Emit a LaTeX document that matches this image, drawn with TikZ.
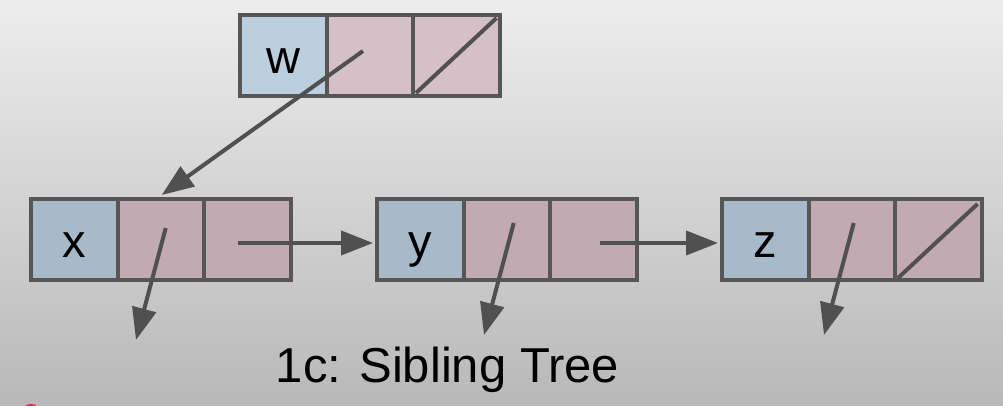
\documentclass[tikz,border=0pt]{standalone}
\usepackage{fontspec}
\setmainfont{Liberation Sans}
\usetikzlibrary{arrows.meta,calc}
\definecolor{bgtop}{HTML}{EDEDED}
\definecolor{bgbot}{HTML}{B8B8B8}
\definecolor{bluetop}{HTML}{BCCFDF}
\definecolor{pinktop}{HTML}{D6C0C8}
\definecolor{bluelow}{HTML}{A8BAC9}
\definecolor{pinklow}{HTML}{C2AAB2}
\definecolor{edgegray}{HTML}{565656}
\definecolor{ptrgray}{HTML}{505050}
\definecolor{dotred}{HTML}{E8203A}
\begin{document}
\begin{tikzpicture}[x=1pt,y=1pt,
  cell/.style={draw=edgegray,line width=4pt,inner sep=0pt,
    minimum width=86.5pt,minimum height=81pt},
  keycell/.style={cell,font=\fontsize{47}{47}\selectfont,text height=36pt,text depth=0pt},
  ptr/.style={draw=ptrgray,line width=4pt,-{Triangle[length=32pt,width=24pt]}},
  slash/.style={draw=ptrgray,line width=4pt}]
\useasboundingbox (0,0) rectangle (1003,406);
\clip (0,0) rectangle (1003,406);
\shade[top color=bgtop,bottom color=bgbot] (0,0) rectangle (1003,406);
% w node
\node[keycell,fill=bluetop] (w1) at (283.25,350.5) {w};
\node[cell,fill=pinktop] (w2) at (369.75,350.5) {};
\node[cell,fill=pinktop] (w3) at (456.25,350.5) {};
% x node
\node[keycell,fill=bluelow] (x1) at (74.25,166.5) {x};
\node[cell,fill=pinklow] (x2) at (160.75,166.5) {};
\node[cell,fill=pinklow] (x3) at (247.25,166.5) {};
% y node
\node[keycell,fill=bluelow] (y1) at (420.25,166.5) {y};
\node[cell,fill=pinklow] (y2) at (506.75,166.5) {};
\node[cell,fill=pinklow] (y3) at (593.25,166.5) {};
% z node
\node[keycell,fill=bluelow] (z1) at (765.25,166.5) {z};
\node[cell,fill=pinklow] (z2) at (851.75,166.5) {};
\node[cell,fill=pinklow] (z3) at (938.25,166.5) {};
% null slashes
\draw[slash] ($(w3.south west)+(5,5)$) -- ($(w3.north east)+(-5,-5)$);
\draw[slash] ($(z3.south west)+(5,4)$) -- ($(z3.north east)+(-6,-7)$);
% pointers
\draw[ptr] ($(w2.center)+(-6.75,4.5)$) -- ($(x2.north)+(1,2)$);
\coordinate (xc) at (136,66);
\coordinate (yc) at (484,71);
\coordinate (zc) at (824,71);
\draw[ptr] ($(x2.center)+(5,11.5)$) -- (xc);
\draw[ptr] ($(y2.center)+(7,16.5)$) -- (yc);
\draw[ptr] ($(z2.center)+(2,16.5)$) -- (zc);
\coordinate (xs) at ($(x3.center)+(-9,-3.5)$);
\coordinate (ys) at ($(y3.center)+(7,-3.5)$);
\draw[ptr] (xs) -- ($(xs -| y1.west)+(-2,0)$);
\draw[ptr] (ys) -- ($(ys -| z1.west)+(-2,0)$);
% caption
\node[anchor=base,inner sep=0pt,font=\fontsize{49}{49}\selectfont] (cap) at (447.5,23) {1c: Sibling Tree};
% red dot at bottom edge
\fill[dotred] (31,-8) circle (10);
\end{tikzpicture}
\end{document}
